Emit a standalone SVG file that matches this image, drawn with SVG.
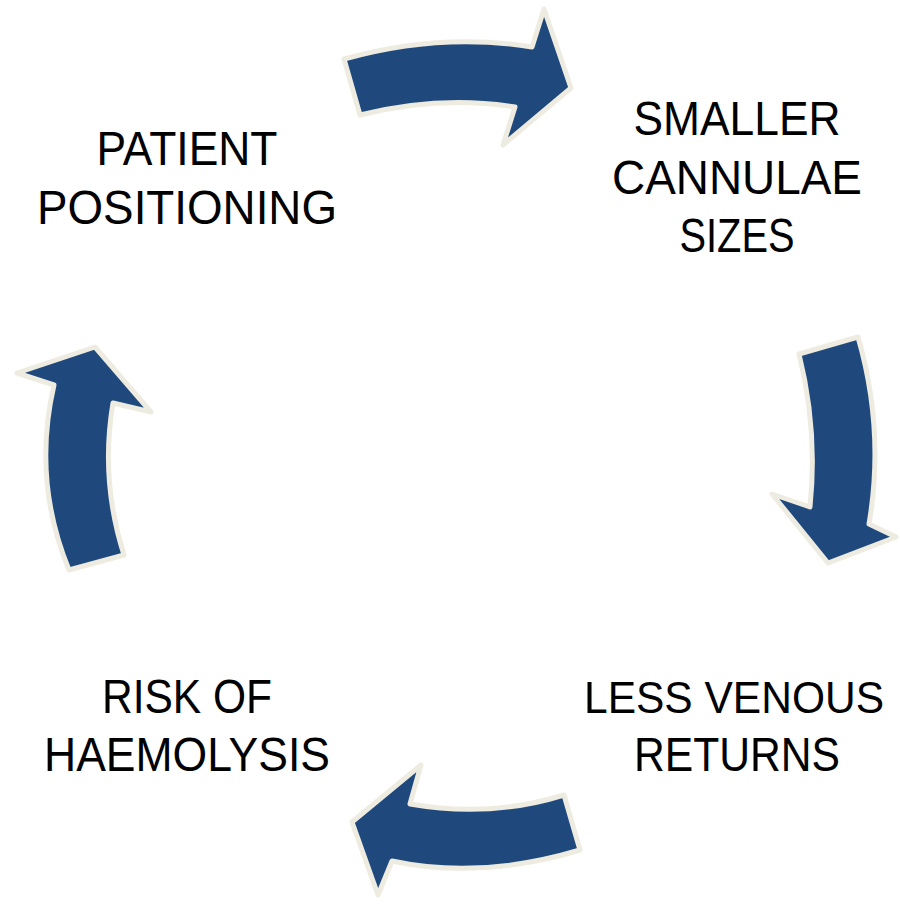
<svg xmlns="http://www.w3.org/2000/svg" width="900" height="904" viewBox="0 0 900 904">
<style>
.arr{fill:#1F497D;stroke:#EEEBE0;stroke-width:5;stroke-linejoin:round}
.lbl{font-family:"Liberation Sans",Arial,sans-serif;font-size:48px;fill:#000;text-anchor:middle}
</style>
<rect width="900" height="904" fill="#fff"/>
<g id="connectors">
<path class="arr" d="M344,59 Q440,32 532,47 L544,9 L571,88 L503,145 L515,107 Q440,95 360,115 Z"/>
<path class="arr" d="M799,354 L858,337 Q885,430 869,524 L896,537 L828,563 L772,494 L810,507 Q818,430 799,354 Z"/>
<path class="arr" d="M564,795 L580,850 Q480,880 392,861 L378,895 L352,822 L421,765 L410,804 Q490,818 564,795 Z"/>
<path class="arr" d="M124,555 L69,570 Q32,480 54,385 L17,373 L95,347 L151,412 L113,403 Q100,480 124,555 Z"/>
</g>
<g id="patient-positioning">
<text class="lbl" x="187" y="165" textLength="181" lengthAdjust="spacingAndGlyphs">PATIENT</text>
<text class="lbl" x="187" y="224" textLength="300" lengthAdjust="spacingAndGlyphs">POSITIONING</text>
</g>
<g id="smaller-cannulae-sizes">
<text class="lbl" x="737" y="135" textLength="207" lengthAdjust="spacingAndGlyphs">SMALLER</text>
<text class="lbl" x="737" y="193.5" textLength="250" lengthAdjust="spacingAndGlyphs">CANNULAE</text>
<text class="lbl" x="737" y="252" textLength="115" lengthAdjust="spacingAndGlyphs">SIZES</text>
</g>
<g id="less-venous-returns">
<text class="lbl" x="734" y="713" style="font-size:44px" textLength="300" lengthAdjust="spacingAndGlyphs">LESS VENOUS</text>
<text class="lbl" x="737" y="771" textLength="206" lengthAdjust="spacingAndGlyphs">RETURNS</text>
</g>
<g id="risk-of-haemolysis">
<text class="lbl" x="187" y="713" textLength="170" lengthAdjust="spacingAndGlyphs">RISK OF</text>
<text class="lbl" x="187" y="771" textLength="286" lengthAdjust="spacingAndGlyphs">HAEMOLYSIS</text>
</g>
</svg>
